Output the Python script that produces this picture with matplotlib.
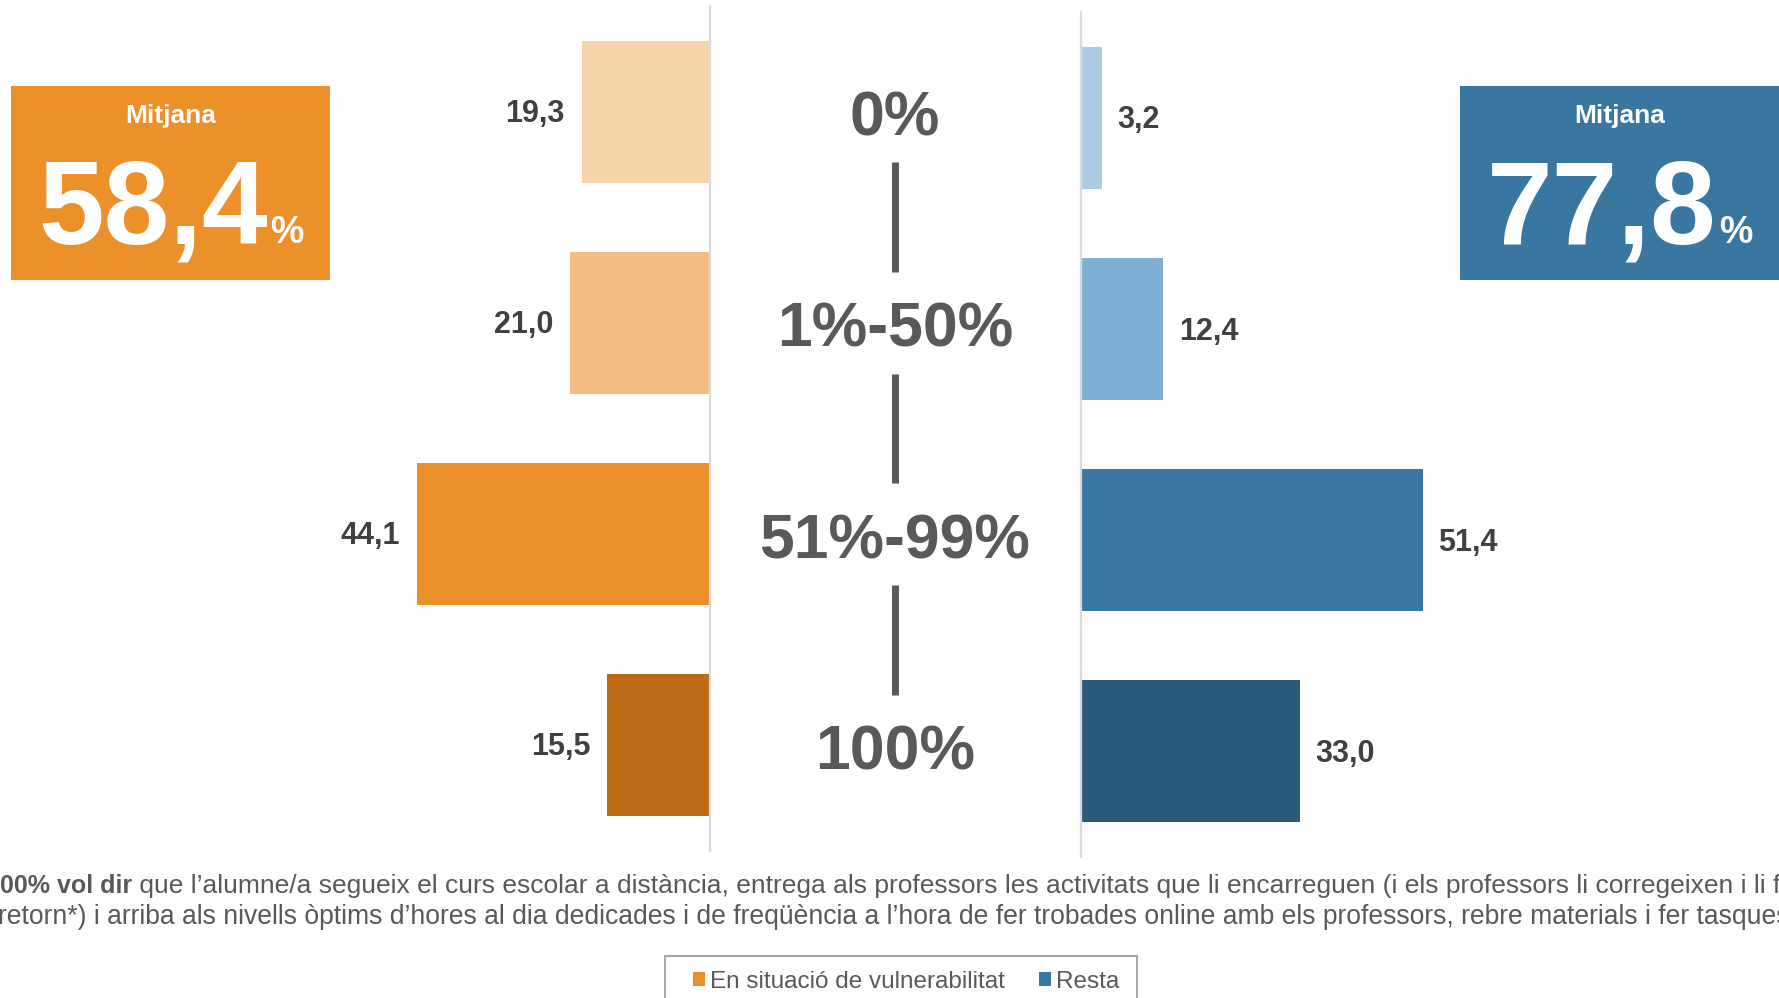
import numpy as np
import matplotlib
from matplotlib import pyplot as plt
from matplotlib import transforms
from matplotlib.patches import Rectangle
from matplotlib.lines import Line2D
matplotlib.use('Agg')

categories = ['0%', '1%-50%', '51%-99%', '100%']
vulnerable = [19.3, 21.0, 44.1, 15.5]
rest = [3.2, 12.4, 51.4, 33.0]
series_names = ['En situació de vulnerabilitat', 'Resta']
averages = [58.4, 77.8]

vulnerable_colors = ['#F7D3AB', '#F3BD84', '#EB8F2A', '#BC6A14']
rest_colors = ['#A9CBE3', '#7FB0D4', '#3A77A2', '#2B5A7A']
avg_colors = ['#EC9029', '#3A77A0']
note_bold = '100% vol dir'
note_line1 = (" que l\u2019alumne/a segueix el curs escolar a distància, entrega als professors les activitats "
              "que li encarreguen (i els professors li corregeixen i li fan")
note_line2 = ("retorn*) i arriba als nivells òptims d\u2019hores al dia dedicades i de freqüència a l\u2019hora de fer "
              "trobades online amb els professors, rebre materials i fer tasques).")

plt.rcParams['font.family'] = ['Liberation Sans', 'DejaVu Sans']
W, H = 1779, 998
PX_PER_UNIT = 6.65
GREY = '#595959'


def fmt(v):
    return f'{v:.1f}'.replace('.', ',')


def px(x, y):
    # pixel position (from top-left) -> figure fraction
    return x / W, 1 - y / H


fig = plt.figure(figsize=(W / 100, H / 100), dpi=100)

ax_l = fig.add_axes([300 / W, 1 - 851 / H, 410 / W, 845 / H])
ax_r = fig.add_axes([1081 / W, 1 - 857 / H, 479 / W, 845 / H])

y = np.arange(len(categories))
bars_l = ax_l.barh(y, vulnerable, height=0.672, color=vulnerable_colors, label=series_names[0])
bars_r = ax_r.barh(y, rest, height=0.672, color=rest_colors, label=series_names[1])
ax_l.set_xlim(410 / PX_PER_UNIT, 0)
ax_r.set_xlim(0, 479 / PX_PER_UNIT)

for ax in (ax_l, ax_r):
    ax.set_ylim(len(categories) - 0.5, -0.5)
    ax.set_xticks([])
    ax.set_yticks([])
    for s in ax.spines.values():
        s.set_visible(False)
    ax.patch.set_alpha(0)
ax_l.spines['right'].set_visible(True)
ax_r.spines['left'].set_visible(True)
for sp in (ax_l.spines['right'], ax_r.spines['left']):
    sp.set_color('#D9D9D9')
    sp.set_linewidth(1.6)

for yi, v in zip(y, vulnerable):
    ax_l.annotate(fmt(v), (v, yi), xytext=(-12, -1.5), textcoords='offset points',
                  ha='right', va='center', fontsize=22, fontweight='bold', color='#404040')
for yi, v in zip(y, rest):
    ax_r.annotate(fmt(v), (v, yi), xytext=(11, -2), textcoords='offset points',
                  ha='left', va='center', fontsize=22, fontweight='bold', color='#404040')

# category labels in the middle, joined by short bars
trans = transforms.blended_transform_factory(fig.transFigure, ax_l.transData)
xc = 895 / W
for yi, c in zip(y, categories):
    fig.text(xc, yi + 0.035, c, transform=trans, ha='center', va='center',
             fontsize=45, fontweight='bold', color=GREY)
for yi in y[:-1]:
    fig.add_artist(Line2D([xc, xc], [yi + 0.24, yi + 0.76], transform=trans,
                          lw=5, color=GREY, solid_capstyle='butt'))

# average boxes
for x0, avg, col in zip([11, 1460], averages, avg_colors):
    fig.add_artist(Rectangle(px(x0, 280), 319 / W, 194 / H, transform=fig.transFigure,
                             facecolor=col, edgecolor='none'))
    fig.text(*px(x0 + 160, 116), 'Mitjana', ha='center', va='center',
             fontsize=19, fontweight='bold', color='white')
    fig.text(*px(x0 + 257, 243), fmt(avg), ha='right', va='baseline',
             fontsize=85, fontweight='bold', color='white')
    fig.text(*px(x0 + 259, 243), '%', ha='left', va='baseline',
             fontsize=27, fontweight='bold', color='white')

# footnote
t1 = fig.text(*px(-14, 893), note_bold, ha='left', va='baseline',
              fontsize=18, fontweight='bold', color=GREY)
ax_l.annotate(note_line1, xy=(1, 0), xycoords=t1, ha='left', va='bottom',
              fontsize=19, color=GREY, annotation_clip=False)
fig.text(*px(-2, 924), note_line2, ha='left', va='baseline', fontsize=19.1, color=GREY)

# legend
fig.add_artist(Rectangle(px(665, 1010), 472 / W, 54 / H, transform=fig.transFigure,
                         facecolor='white', edgecolor='#A6A6A6', lw=1.5))
fig.legend(handles=[bars_l[2], bars_r[2]], labels=series_names, loc='center left',
           bbox_to_anchor=px(693, 982), frameon=False, ncol=2, fontsize=17.5,
           handlelength=0.5, handleheight=0.5, handletextpad=0.2, columnspacing=1.4,
           borderpad=0, borderaxespad=0, labelcolor=GREY)

fig.savefig('out.png', dpi=100)
